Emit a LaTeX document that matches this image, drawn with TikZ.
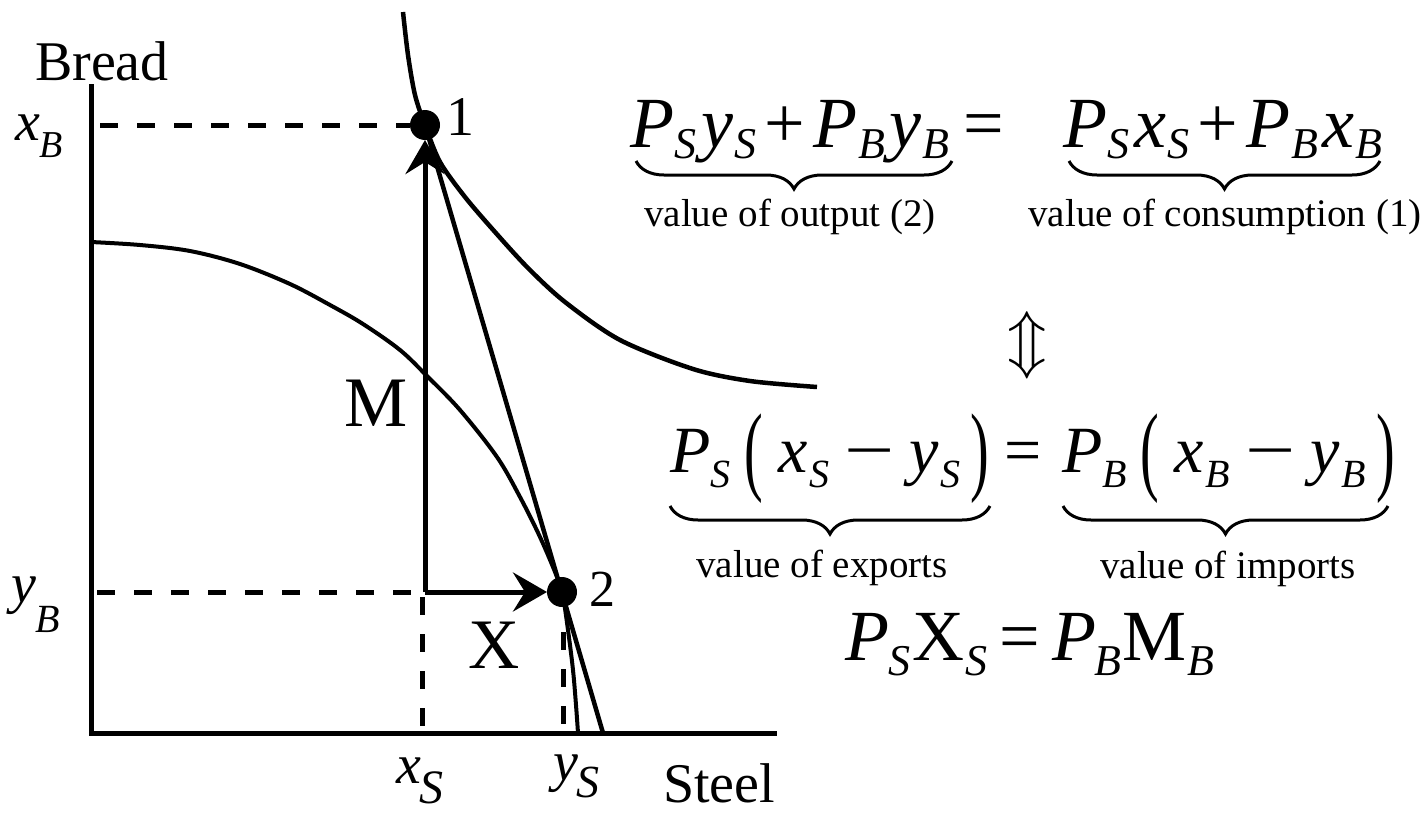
\documentclass[tikz,border=0pt]{standalone}
\usepackage{fontspec}
\setmainfont{Liberation Serif}
\usetikzlibrary{arrows.meta,decorations.pathreplacing}
\newcommand\lsub[3]{\raisebox{-#2pt}{\fontsize{#1}{#1}\selectfont\itshape #3}}
\newcommand\bigpar[1]{\raisebox{-10pt}{\scalebox{0.85}[1.5]{\upshape #1}}}
\newcommand\longminus{\scalebox{1.35}[1]{\upshape −}}
\begin{document}
\begin{tikzpicture}[x=1pt,y=-1pt,
  every node/.style={inner sep=0pt,outer sep=0pt},
  axisline/.style={line width=5pt},
  guide/.style={line width=5pt,dash pattern=on 18pt off 19pt},
  curveline/.style={line width=4pt,line join=round},
  budget/.style={line width=4.5pt},
  flow/.style={line width=5pt,-{Stealth[length=34pt,width=39pt,inset=12pt]}},
  dot/.style={circle,fill=black,minimum size=30pt},
  lbl/.style={font=\fontsize{56}{60}\selectfont,anchor=base west},
  lbli/.style={font=\fontsize{56}{60}\selectfont\itshape,anchor=base west},
  big/.style={font=\fontsize{71}{74}\selectfont,anchor=base},
  eqa/.style={font=\fontsize{72}{74}\selectfont\itshape,anchor=base west},
  eqb/.style={font=\fontsize{66}{68}\selectfont\itshape,anchor=base west},
  eqc/.style={font=\fontsize{72}{74}\selectfont\itshape,anchor=base west},
  note/.style={font=\fontsize{39}{42}\selectfont,anchor=base},
  ubrace/.style={decorate,decoration={brace,mirror,amplitude=28pt},line width=3pt}
]
\useasboundingbox (0,0) rectangle (1425,814);

% key points
\node[dot] (p1) at (425,125) {};
\node[dot] (p2) at (562,592) {};
\coordinate (O) at (91,733);
\coordinate (ytop) at (91,84);
\coordinate (xend) at (777,733);
\coordinate (o) at (425,592);
\coordinate (pl) at (603,733);
\coordinate (dxB) at (100,125);
\coordinate (dyB) at (97,592);
\coordinate (dxS1) at (422,597);
\coordinate (dxS2) at (422,728);
\coordinate (dyS1) at (563,632);
\coordinate (dyS2) at (563,728);

% axes
\draw[axisline] (ytop) -- (O) -- (xend);

% guides
\draw[guide] (dxB) -- (p1);
\draw[guide] (dyB) -- (o);
\draw[guide] (dxS1) -- (dxS2);
\draw[guide] (dyS1) -- (dyS2);

% production possibility frontier
\draw[curveline] plot[smooth,tension=0.55] coordinates {(91,242) (140,245) (190,251) (240,264) (290,284) (330,305) (363,324) (400,350) (427,376) (460,410) (497,457) (520,497) (540,537) (557,577) (563,597) (568,630) (573,670) (576,705) (578,733)};

% indifference curve
\draw[curveline,line width=4.5pt] plot[smooth,tension=0.5] coordinates {(403,12) (408,55) (415,95) (425,125) (440,162) (465,197) (495,232) (528,268) (565,302) (620,340) (693,369) (750,381) (817,387)};

% price line
\draw[budget] (p1.center) -- (pl);

% trade arrows
\draw[flow] (o) -- (p1);
\draw[flow] (o) -- (p2);

% graph labels
\node[lbl] (bread) at (35,80) {Bread};
\node[lbl] (steel) at (663,802) {Steel};
\node[lbli] (xB) at (15,140) {x\lsub{38}{17}{B}};
\node[lbli] (yB) at (11,602) {y\lsub{40}{30}{B}};
\node[lbli] (xS) at (396,783) {x\kern-1pt\lsub{48}{20}{S}};
\node[lbli] (yS) at (553,780) {y\kern-1pt\lsub{46}{17}{S}};
\node[big] (M) at (376,426) {M};
\node[big] (X) at (494,668) {X};
\node[lbl] (one) at (446,135) {1};
\node[lbl,font=\fontsize{52}{56}\selectfont] (two) at (589,606) {2};

% equation 1
\node[eqa] (e1l) at (630,147) {P\kern1pt\lsub{44}{11}{S}\kern5pt y\kern1pt\lsub{44}{11}{S}\hspace{8pt}{\upshape +}\hspace{8pt}P\kern1pt\lsub{44}{11}{B}\kern4pt y\kern1pt\lsub{44}{11}{B}};
\node[eqa,font=\fontsize{72}{74}\selectfont] (e1eq) at (963,147) {=};
\node[eqa] (e1r) at (1063,147) {P\kern1pt\lsub{44}{11}{S}\kern5pt x\kern1pt\lsub{44}{11}{S}\hspace{8pt}{\upshape +}\hspace{8pt}P\kern1pt\lsub{44}{11}{B}\kern4pt x\kern1pt\lsub{44}{11}{B}};
\coordinate (b1a) at (636,161);
\coordinate (b1b) at (952,161);
\coordinate (b2a) at (1069,161);
\coordinate (b2b) at (1380,161);
\draw[ubrace] (b1a) -- (b1b);
\draw[ubrace] (b2a) -- (b2b);
\node[note] (n1) at (790,226) {value of output (2)};
\node[note] (n2) at (1225,226) {value of consumption (1)};

% equivalence
\node (equiv) at (1027,345) {\scalebox{2.6}{\fontsize{24.88}{26}\selectfont$\Updownarrow$}};

% equation 2
\node[eqb] (e2l) at (670,472) {P\lsub{40}{15}{S}\hspace{14pt}\bigpar{(}\hspace{15pt}x\kern2pt\lsub{40}{15}{S}\hspace{15pt}\longminus\hspace{15pt}y\kern2pt\lsub{40}{15}{S}\hspace{10pt}\bigpar{)}};
\node[eqb,font=\fontsize{66}{68}\selectfont] (e2eq) at (1004,472) {=};
\node[eqb] (e2r) at (1062,472) {P\lsub{40}{15}{B}\hspace{14pt}\bigpar{(}\hspace{15pt}x\kern2pt\lsub{40}{15}{B}\hspace{15pt}\longminus\hspace{15pt}y\kern2pt\lsub{40}{15}{B}\hspace{10pt}\bigpar{)}};
\coordinate (b3a) at (670,506);
\coordinate (b3b) at (990,506);
\coordinate (b4a) at (1063,506);
\coordinate (b4b) at (1388,506);
\draw[ubrace] (b3a) -- (b3b);
\draw[ubrace] (b4a) -- (b4b);
\node[note] (n3) at (822,577) {value of exports};
\node[note] (n4) at (1228,578) {value of imports};

% equation 3
\node[eqc] (e3) at (845,660) {P\lsub{44}{15}{S}\kern2pt{\upshape X}\kern1pt\lsub{44}{15}{S}\hspace{12pt}{\upshape =}\hspace{12pt}P\kern-2pt\lsub{44}{15}{B}\kern1pt{\upshape M}\kern1pt\lsub{44}{15}{B}};
\end{tikzpicture}
\end{document}
